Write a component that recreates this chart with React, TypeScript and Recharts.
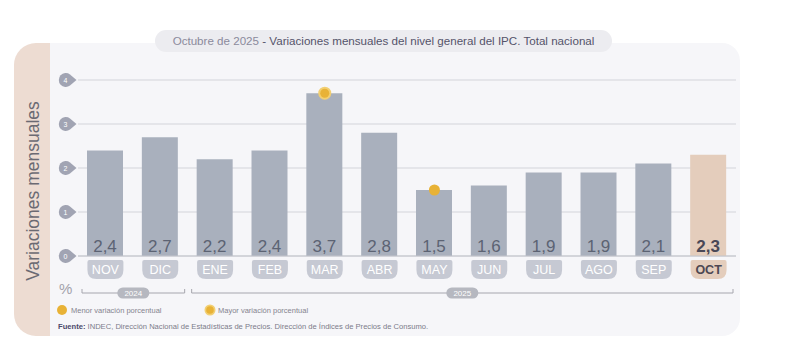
import React from 'react';
import { ComposedChart, Bar, XAxis, YAxis, CartesianGrid, Cell, LabelList, ReferenceDot } from 'recharts';

const months = ['NOV', 'DIC', 'ENE', 'FEB', 'MAR', 'ABR', 'MAY', 'JUN', 'JUL', 'AGO', 'SEP', 'OCT'];
const values = [2.4, 2.7, 2.2, 2.4, 3.7, 2.8, 1.5, 1.6, 1.9, 1.9, 2.1, 2.3];
const yTicks = [0, 1, 2, 3, 4];
const yearGroups = [
  { label: '2024', from: 0, to: 1 },
  { label: '2025', from: 2, to: 11 },
];
const titleDate = 'Octubre de 2025';
const titleRest = ' - Variaciones mensuales del nivel general del IPC. Total nacional';
const yLabel = 'Variaciones mensuales';
const legendMin = 'Menor variación porcentual';
const legendMax = 'Mayor variación porcentual';
const sourceBold = 'Fuente:';
const sourceText = ' INDEC, Dirección Nacional de Estadísticas de Precios. Dirección de Índices de Precios de Consumo.';

const data = months.map((m, i) => ({ month: m, value: values[i] }));
const lastIdx = months.length - 1;
const maxIdx = values.indexOf(Math.max(...values));
const minIdx = values.indexOf(Math.min(...values));

const W = 790;
const H = 339;
const Y_AXIS_W = 20;
const M = { top: 80, right: 54, bottom: 53, left: 78 - Y_AXIS_W };
const X_AXIS_H = 30;
const PLOT_LEFT = 78;
const FONT = '"Liberation Sans", Arial, Helvetica, sans-serif';

const BAR = '#a9b0bd';
const BAR_HL = '#e4cdbc';
const YELLOW = '#e8b236';

const plotW = W - PLOT_LEFT - M.right;
const band = plotW / months.length;

const YTick = (props: any) => {
  const { y, payload } = props;
  const cx = 66;
  return (
    <g>
      <path
        d={`M ${cx + 4} ${y - 5.6} A 7 7 0 1 0 ${cx + 4} ${y + 5.6} L ${cx + 10.5} ${y} Z`}
        fill="#a1a4b3"
      />
      <text x={cx - 0.5} y={y + 2.5} textAnchor="middle" fontSize={7} fill="#ffffff" fontFamily={FONT}>
        {payload.value}
      </text>
    </g>
  );
};

const XTick = (props: any) => {
  const { x, y, payload, index } = props;
  const hl = index === lastIdx;
  const w = 36;
  const top = y + 4;
  const h = 19;
  const r = 9;
  const left = x - w / 2;
  const d = `M ${left} ${top + 2} Q ${left} ${top} ${left + 2} ${top} L ${left + w - 2} ${top} Q ${left + w} ${top} ${left + w} ${top + 2} L ${left + w} ${top + h - r} Q ${left + w} ${top + h} ${left + w - r} ${top + h} L ${left + r} ${top + h} Q ${left} ${top + h} ${left} ${top + h - r} Z`;
  return (
    <g>
      <path d={d} fill={hl ? BAR_HL : '#c6c9d3'} />
      <text
        x={x}
        y={top + 14}
        textAnchor="middle"
        fontSize={12.5}
        fontWeight={hl ? 700 : 400}
        fill={hl ? '#4d4853' : '#ffffff'}
        fontFamily={FONT}
      >
        {payload.value}
      </text>
    </g>
  );
};

const ValueLabel = (props: any) => {
  const { x, y, width, height, value, index } = props;
  const hl = index === lastIdx;
  return (
    <text
      x={x + width / 2}
      y={y + height - 4}
      textAnchor="middle"
      fontSize={17}
      fontWeight={hl ? 700 : 400}
      fill={hl ? '#4a4856' : '#5c6373'}
      fontFamily={FONT}
    >
      {Number(value).toFixed(1).replace('.', ',')}
    </text>
  );
};

const MaxDot = (props: any) => {
  const { cx, cy } = props;
  return (
    <g>
      <circle cx={cx} cy={cy} r={6.5} fill="#f2cf72" />
      <circle cx={cx} cy={cy} r={4.5} fill={YELLOW} />
    </g>
  );
};

const MinDot = (props: any) => {
  const { cx, cy } = props;
  return <circle cx={cx} cy={cy} r={5.5} fill={YELLOW} />;
};

export default function App() {
  return (
    <div style={{ position: 'absolute', left: 0, top: 0, width: W, height: H, background: '#ffffff', fontFamily: FONT, overflow: 'hidden' }}>
      {/* card */}
      <div style={{ position: 'absolute', left: 14, top: 43, width: 60, height: 293, background: '#eddcd2', borderRadius: '22px 0 0 22px' }} />
      <div style={{ position: 'absolute', left: 50, top: 43, width: 690, height: 293, background: '#f6f6f9', borderRadius: '0 18px 18px 0' }} />
      {/* title pill */}
      <div
        style={{
          position: 'absolute',
          left: 155,
          top: 30,
          width: 457,
          height: 22,
          background: '#ececf0',
          borderRadius: 11,
          fontSize: 11.6,
          lineHeight: '22px',
          textAlign: 'center',
          whiteSpace: 'nowrap',
          color: '#54536a',
        }}
      >
        <span style={{ color: '#8b8a9c' }}>{titleDate}</span>
        <span>{titleRest}</span>
      </div>
      {/* y label */}
      <div
        style={{
          position: 'absolute',
          left: 33,
          top: 191,
          transform: 'translate(-50%, -50%) rotate(-90deg)',
          fontSize: 17.5,
          color: '#6b6a72',
          whiteSpace: 'nowrap',
        }}
      >
        {yLabel}
      </div>

      <div style={{ position: 'absolute', left: 0, top: 0 }}>
        <ComposedChart width={W} height={H} data={data} margin={M}>
          <CartesianGrid horizontal vertical={false} stroke="#d3d4da" strokeWidth={1} />
          <YAxis
            domain={[0, 4]}
            ticks={yTicks}
            width={Y_AXIS_W}
            axisLine={false}
            tickLine={false}
            tick={<YTick />}
            interval={0}
          />
          <XAxis
            dataKey="month"
            height={X_AXIS_H}
            axisLine={{ stroke: '#c2c4cb' }}
            tickLine={false}
            tick={<XTick />}
            tickMargin={0}
            tickSize={0}
            interval={0}
          />
          <Bar dataKey="value" barSize={36} isAnimationActive={false}>
            {data.map((d, i) => (
              <Cell key={d.month} fill={i === lastIdx ? BAR_HL : BAR} />
            ))}
            <LabelList dataKey="value" content={<ValueLabel />} />
          </Bar>
          <ReferenceDot x={months[maxIdx]} y={values[maxIdx]} shape={<MaxDot />} ifOverflow="visible" />
          <ReferenceDot x={months[minIdx]} y={values[minIdx]} shape={<MinDot />} ifOverflow="visible" />
        </ComposedChart>
      </div>

      {/* decorations: %, year brackets, legend, source */}
      <svg style={{ position: 'absolute', left: 0, top: 0 }} width={W} height={H}>
        <text x={59} y={294} fontSize={15} fill="#a3a2ab" fontFamily={FONT}>%</text>
        {yearGroups.map((g) => {
          const x1 = PLOT_LEFT + g.from * band + 4;
          const x2 = PLOT_LEFT + (g.to + 1) * band - 3;
          const mid = (x1 + x2) / 2;
          const ly = 293;
          return (
            <g key={g.label}>
              <path d={`M ${x1} ${ly - 4} L ${x1} ${ly} L ${x2} ${ly} L ${x2} ${ly - 4}`} fill="none" stroke="#a6a6ae" strokeWidth={1} />
              <rect x={mid - 16} y={ly - 5.5} width={32} height={11} rx={5.5} fill="#b6b8c0" />
              <text x={mid} y={ly + 3} textAnchor="middle" fontSize={8} fill="#ffffff" fontFamily={FONT}>{g.label}</text>
            </g>
          );
        })}
        <circle cx={62} cy={310} r={5} fill={YELLOW} />
        <text x={71} y={312.5} fontSize={7.5} fill="#85848f" fontFamily={FONT}>{legendMin}</text>
        <circle cx={210} cy={310} r={5.5} fill="#f2cf72" />
        <circle cx={210} cy={310} r={3.8} fill={YELLOW} />
        <text x={218} y={312.5} fontSize={7.5} fill="#85848f" fontFamily={FONT}>{legendMax}</text>
        <text x={58} y={328.5} fontSize={7.6} fill="#7c7b89" fontFamily={FONT}>
          <tspan fontWeight={700} fill="#4c4a6b">{sourceBold}</tspan>
          <tspan>{sourceText}</tspan>
        </text>
      </svg>
    </div>
  );
}
